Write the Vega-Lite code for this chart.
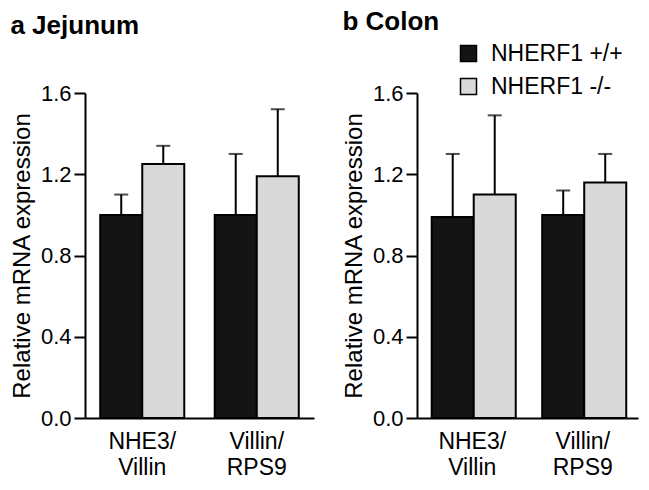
{
  "$schema": "https://vega.github.io/schema/vega-lite/v6.json",
  "background": "white",
  "padding": {"left": 10, "top": 9, "right": 5, "bottom": 5},
  "datasets": {
    "d": [
      {"panel": "Jejunum", "measure": "NHE3/ Villin", "genotype": "NHERF1 +/+", "value": 1.0, "upper": 1.1},
      {"panel": "Jejunum", "measure": "NHE3/ Villin", "genotype": "NHERF1 -/-", "value": 1.25, "upper": 1.34},
      {"panel": "Jejunum", "measure": "Villin/ RPS9", "genotype": "NHERF1 +/+", "value": 1.0, "upper": 1.3},
      {"panel": "Jejunum", "measure": "Villin/ RPS9", "genotype": "NHERF1 -/-", "value": 1.19, "upper": 1.52},
      {"panel": "Colon", "measure": "NHE3/ Villin", "genotype": "NHERF1 +/+", "value": 0.99, "upper": 1.3},
      {"panel": "Colon", "measure": "NHE3/ Villin", "genotype": "NHERF1 -/-", "value": 1.1, "upper": 1.49},
      {"panel": "Colon", "measure": "Villin/ RPS9", "genotype": "NHERF1 +/+", "value": 1.0, "upper": 1.12},
      {"panel": "Colon", "measure": "Villin/ RPS9", "genotype": "NHERF1 -/-", "value": 1.16, "upper": 1.3}
    ]
  },
  "config": {
    "font": "Liberation Sans",
    "view": {"stroke": null},
    "axis": {
      "domainColor": "black", "domainWidth": 2, "tickColor": "black", "tickWidth": 2,
      "labelColor": "black", "titleColor": "black", "grid": false,
      "labelFontSize": 22, "titleFontSize": 24, "titleFontWeight": "normal"
    },
    "title": {"fontSize": 26, "fontWeight": "bold", "anchor": "start", "frame": "bounds", "color": "black"},
    "legend": {"labelFontSize": 23, "labelColor": "black"}
  },
  "spacing": 28,
  "resolve": {"scale": {"color": "independent"}, "legend": {"color": "independent"}},
  "hconcat": [
    {
      "title": {"text": "a Jejunum", "offset": 43},
      "width": 229,
      "height": 325,
      "data": {"name": "d"},
      "transform": [{"filter": "datum.panel === 'Jejunum'"}],
      "encoding": {
        "x": {
          "field": "measure", "type": "nominal", "sort": null,
          "scale": {"paddingInner": 0.266, "paddingOuter": 0.133},
          "axis": {"title": null, "labelAngle": 0, "ticks": false, "labelPadding": 12, "labelFontSize": 23, "labelExpr": "split(datum.label, ' ')", "labelLineHeight": 26}
        },
        "xOffset": {"field": "genotype", "type": "nominal", "sort": null, "scale": {"paddingInner": 0, "paddingOuter": 0}}
      },
      "layer": [
        {
          "mark": {"type": "bar", "stroke": "black", "strokeWidth": 2},
          "encoding": {
            "y": {"field": "value", "type": "quantitative", "title": "Relative mRNA expression",
              "scale": {"domain": [0, 1.6], "nice": false},
              "axis": {"values": [0, 0.4, 0.8, 1.2, 1.6], "format": ".1f", "tickSize": 11, "labelPadding": 3, "titlePadding": 6}},
            "color": {"field": "genotype", "type": "nominal", "sort": null,
              "scale": {"domain": ["NHERF1 +/+", "NHERF1 -/-"], "range": ["#141414", "#d9d9d9"]},
              "legend": null}
          }
        },
        {
          "mark": {"type": "rule", "color": "black", "strokeWidth": 2},
          "encoding": {
            "y": {"field": "value", "type": "quantitative", "title": "Relative mRNA expression"},
            "y2": {"field": "upper"}
          }
        },
        {
          "mark": {"type": "tick", "color": "black", "thickness": 2, "size": 14},
          "encoding": {
            "y": {"field": "upper", "type": "quantitative", "title": "Relative mRNA expression"}
          }
        }
      ]
    },
    {
      "title": {"text": "b Colon", "offset": 7},
      "width": 221,
      "height": 325,
      "data": {"name": "d"},
      "transform": [{"filter": "datum.panel === 'Colon'"}],
      "encoding": {
        "x": {
          "field": "measure", "type": "nominal", "sort": null,
          "scale": {"paddingInner": 0.266, "paddingOuter": 0.133},
          "axis": {"title": null, "labelAngle": 0, "ticks": false, "labelPadding": 12, "labelFontSize": 23, "labelExpr": "split(datum.label, ' ')", "labelLineHeight": 26}
        },
        "xOffset": {"field": "genotype", "type": "nominal", "sort": null, "scale": {"paddingInner": 0, "paddingOuter": 0}}
      },
      "layer": [
        {
          "mark": {"type": "bar", "stroke": "black", "strokeWidth": 2},
          "encoding": {
            "y": {"field": "value", "type": "quantitative", "title": "Relative mRNA expression",
              "scale": {"domain": [0, 1.6], "nice": false},
              "axis": {"values": [0, 0.4, 0.8, 1.2, 1.6], "format": ".1f", "tickSize": 11, "labelPadding": 3, "titlePadding": 6}},
            "color": {"field": "genotype", "type": "nominal", "sort": null,
              "scale": {"domain": ["NHERF1 +/+", "NHERF1 -/-"], "range": ["#141414", "#d9d9d9"]},
              "legend": {"orient": "none", "legendX": 40, "legendY": -51, "title": null, "symbolType": "square",
                "symbolSize": 256, "symbolStrokeColor": "black", "symbolStrokeWidth": 1.5, "labelFontSize": 23,
                "labelOffset": 11, "rowPadding": 9, "padding": 0}}
          }
        },
        {
          "mark": {"type": "rule", "color": "black", "strokeWidth": 2},
          "encoding": {
            "y": {"field": "value", "type": "quantitative", "title": "Relative mRNA expression"},
            "y2": {"field": "upper"}
          }
        },
        {
          "mark": {"type": "tick", "color": "black", "thickness": 2, "size": 14},
          "encoding": {
            "y": {"field": "upper", "type": "quantitative", "title": "Relative mRNA expression"}
          }
        }
      ]
    }
  ]
}
